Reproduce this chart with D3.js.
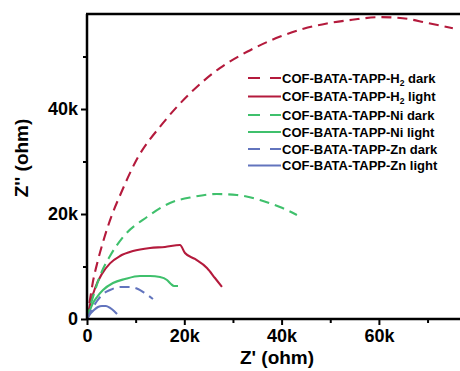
<!DOCTYPE html>
<html>
<head>
<meta charset="utf-8">
<script src="https://cdn.jsdelivr.net/npm/d3@7"></script>
<style>
  html, body { margin: 0; padding: 0; background: #fff; }
  svg { display: block; font-family: "Liberation Sans", Arial, sans-serif; }
</style>
</head>
<body>
<svg id="chart" width="460" height="371"></svg>
<script>
// Nyquist data: [Z' (ohm), Z'' (ohm)]
const h2Dark = [[0,0],[500,3000],[1200,7000],[2200,11000],[3400,15000],[5000,19500],[7000,24000],[10000,30000],[15600,37300],[21200,43000],[27300,47800],[32900,50900],[39700,53800],[44500,55300],[49300,56300],[54500,57000],[60200,57500],[64900,57300],[69900,56400],[75200,55400]];
const h2Light = [[0,0],[700,3000],[1700,6000],[3000,8500],[4730,10600],[6780,12000],[9450,12950],[12950,13530],[16030,13720],[19110,14100],[20140,12570],[22190,11430],[24660,9720],[26300,7810],[27740,6100]];
const niDark = [[0,0],[600,2200],[1500,5000],[2670,8200],[4730,12000],[7400,15620],[12330,19430],[17060,22100],[21780,23240],[26700,23810],[30800,23620],[35550,22670],[39660,21340],[43150,19810]];
const niLight = [[0,0],[1030,2670],[2060,4190],[3290,5520],[5340,6860],[7810,7620],[10890,8190],[12950,8190],[15000,8000],[16440,7430],[17260,6670],[17880,6290],[18700,6290]];
const znDark = [[0,0],[1030,1900],[2060,3430],[3290,4760],[4730,5520],[6780,6100],[8840,6100],[10480,5720],[12120,4760],[13560,3810]];
const znLight = [[0,0],[616,950],[1440,1710],[2260,2290],[3080,2480],[3900,2480],[4730,2100],[5550,1520],[6170,950]];

const seriesNames = ["COF-BATA-TAPP-H|2| dark","COF-BATA-TAPP-H|2| light","COF-BATA-TAPP-Ni dark","COF-BATA-TAPP-Ni light","COF-BATA-TAPP-Zn dark","COF-BATA-TAPP-Zn light"];
const seriesData = [h2Dark, h2Light, niDark, niLight, znDark, znLight];
const seriesColors = ["#b41a3c","#b41a3c","#3fc06c","#3fc06c","#6274bd","#6274bd"];
const seriesDashed = [true,false,true,false,true,false];

const xMajor = [0,20000,40000,60000];
const xMinor = [10000,30000,50000,70000];
const yMajor = [0,20000,40000];
const yMinor = [10000,30000,50000];
const tickFmt = v => v === 0 ? "0" : (v/1000) + "k";

const svg = d3.select("#chart");
const x = d3.scaleLinear().domain([0, 80000]).range([87, 476.2]);
const y = d3.scaleLinear().domain([0, 58100]).range([319, 14]);

// Curves
const line = d3.line().x(d => x(d[0])).y(d => y(d[1])).curve(d3.curveMonotoneX);
svg.append("g").selectAll("path").data(seriesData).join("path")
  .attr("d", line)
  .attr("fill", "none")
  .attr("stroke", (d,i) => seriesColors[i])
  .attr("stroke-width", 2.1)
  .attr("stroke-dasharray", (d,i) => seriesDashed[i] ? "10,6" : null);

// Axes
const axisStyle = g => {
  g.select(".domain").remove();
  g.selectAll(".tick line").attr("stroke", "#000").attr("stroke-width", 2);
  g.selectAll(".tick text").attr("font-size", 18).attr("font-weight", "bold").attr("fill", "#000");
};
svg.append("g").attr("transform", "translate(0,319)")
  .call(d3.axisBottom(x).tickValues(xMajor).tickFormat(tickFmt).tickSize(6).tickPadding(4))
  .call(axisStyle);
svg.append("g").attr("transform", "translate(0,319)")
  .call(d3.axisBottom(x).tickValues(xMinor).tickFormat("").tickSize(4))
  .call(axisStyle);
svg.append("g").attr("transform", "translate(87,0)")
  .call(d3.axisLeft(y).tickValues(yMajor).tickFormat(tickFmt).tickSize(6).tickPadding(3))
  .call(axisStyle);
svg.append("g").attr("transform", "translate(87,0)")
  .call(d3.axisLeft(y).tickValues(yMinor).tickFormat("").tickSize(4))
  .call(axisStyle);

// Frame lines
svg.append("line").attr("x1", 87).attr("x2", 460).attr("y1", 319).attr("y2", 319)
  .attr("stroke", "#000").attr("stroke-width", 2.5);
svg.append("line").attr("x1", 87).attr("x2", 87).attr("y1", 14).attr("y2", 320)
  .attr("stroke", "#000").attr("stroke-width", 2.5);
svg.append("line").attr("x1", 86).attr("x2", 460).attr("y1", 14).attr("y2", 14)
  .attr("stroke", "#000").attr("stroke-width", 2.5);

// Axis titles
svg.append("text").attr("x", 277).attr("y", 364).attr("text-anchor", "middle")
  .attr("font-size", 19).attr("font-weight", "bold").text("Z' (ohm)");
svg.append("text").attr("transform", "translate(28,158) rotate(-90)").attr("text-anchor", "middle")
  .attr("font-size", 19).attr("font-weight", "bold").text("Z'' (ohm)");

// Legend
const legendY = [78, 96.5, 115, 132, 149, 165.5];
const lg = svg.append("g");
seriesNames.forEach((name, i) => {
  lg.append("line").attr("x1", 248).attr("x2", 281).attr("y1", legendY[i]).attr("y2", legendY[i])
    .attr("stroke", seriesColors[i]).attr("stroke-width", 2)
    .attr("stroke-dasharray", seriesDashed[i] ? "12,10" : null);
  const t = lg.append("text").attr("x", 282).attr("y", legendY[i] + 4.6)
    .attr("font-size", 13).attr("font-weight", "bold").attr("fill", "#000");
  name.split("|").forEach((part, k) => {
    const ts = t.append("tspan").text(part);
    if (k === 1) ts.attr("font-size", 8.5).attr("dy", 3);
    if (k === 2) ts.attr("dy", -3);
  });
});
</script>
</body>
</html>
